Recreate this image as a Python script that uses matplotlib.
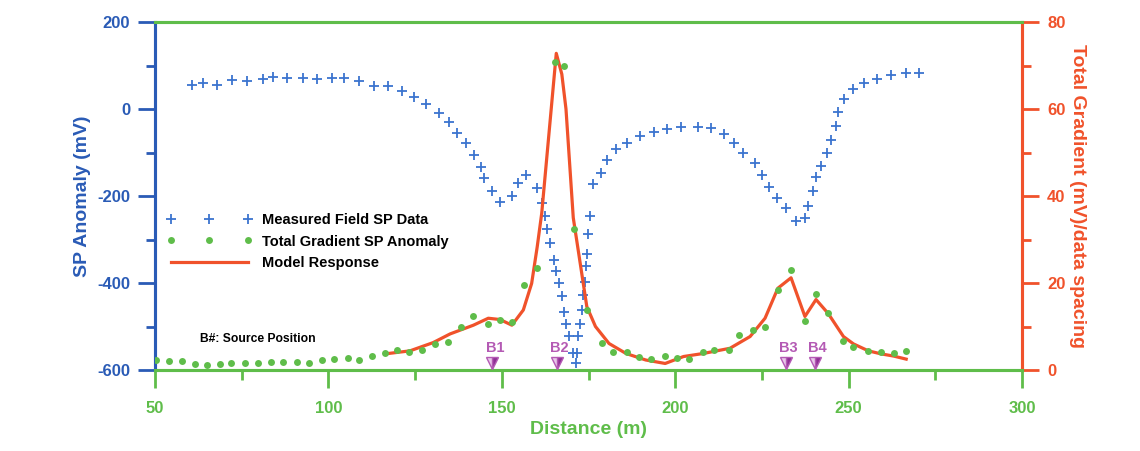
import matplotlib
matplotlib.use("Agg")
import matplotlib.pyplot as plt
from matplotlib.lines import Line2D

plt.rcParams['font.family'] = ['Liberation Sans', 'DejaVu Sans']
plt.rcParams['font.weight'] = 'bold'
plt.rcParams['axes.unicode_minus'] = False

# ---------------- data ----------------
sp_x = [60.6, 63.9, 67.8, 72.1, 76.6, 81.0, 84.1, 88.1, 92.6, 96.6, 101.1, 104.5,
        108.9, 113.1, 117.1, 121.1, 124.8, 128.1, 131.8, 134.8, 137.2, 139.7, 142.0,
        143.9, 145.0, 147.3, 149.5, 153.0, 154.8, 157.0, 160.2, 161.5,
        162.5, 163.1, 163.9, 165.1, 165.6, 166.6, 167.4, 168.0, 168.5, 169.5, 170.4, 171.3,
        171.8, 172.1, 172.6, 173.0, 173.3, 173.9, 174.3, 174.5, 174.8, 175.5,
        176.4, 178.5, 180.2, 182.8, 186.0, 189.8, 193.9, 197.7, 201.8, 206.5, 210.3,
        214.1, 217.0, 219.6, 223.0, 225.1, 227.0, 229.3, 231.9, 234.8, 237.4, 238.4,
        239.6, 240.6, 242.0, 243.9, 244.9, 246.3, 247.0, 248.8, 251.2, 254.4, 258.1,
        262.2, 266.6, 270.4]
sp_mv = [55, 59, 55, 67, 64, 69, 73, 71, 71, 69, 71, 71,
         64, 54, 53, 42, 28, 11, -10, -30, -56, -79, -106,
         -133, -159, -189, -214, -199, -171, -152, -182, -215,
         -247, -277, -309, -346, -372, -399, -431, -467, -494, -522, -560, -585,
         -560, -521, -494, -463, -428, -397, -361, -333, -288, -246,
         -173, -148, -117, -93, -77, -61, -54, -47, -42, -42, -44,
         -58, -79, -100, -125, -152, -179, -205, -228, -257, -251, -222,
         -188, -156, -130, -100, -71, -39, -8, 22, 45, 59, 69,
         78, 83, 82]

tg_x = [50.3, 54.0, 57.7, 61.5, 65.1, 68.7, 71.9, 76.0, 79.8, 83.4, 87.0, 90.9,
        94.5, 98.2, 101.7, 105.6, 108.9, 112.5, 116.3, 119.9, 123.3, 126.9, 130.7,
        134.4, 138.2, 141.8, 145.9, 149.5, 152.9, 156.4, 160.1, 165.4, 167.8, 170.8,
        174.5, 178.8, 182.2, 186.2, 189.6, 193.0, 197.1, 200.6, 204.1, 207.9, 211.3,
        215.6, 218.5, 222.5, 225.9, 229.6, 233.4, 237.4, 240.6, 244.1, 248.5, 251.4,
        255.7, 259.4, 263.0, 266.6]
tg_val = [2.3, 2.1, 2.1, 1.4, 1.1, 1.4, 1.5, 1.5, 1.5, 1.8, 1.8, 1.8,
          1.5, 2.3, 2.5, 2.8, 2.3, 3.3, 4.0, 4.7, 4.1, 4.7, 6.0,
          6.5, 10.0, 12.3, 10.5, 11.6, 11.1, 19.5, 23.5, 70.9, 70.0, 32.3,
          13.9, 6.1, 4.2, 4.2, 3.1, 2.5, 3.2, 2.7, 2.5, 4.1, 4.6,
          4.6, 8.0, 9.2, 10.0, 18.5, 23.0, 11.3, 17.4, 13.0, 6.7, 5.4,
          4.4, 4.1, 3.8, 4.4]

model_x = [116.3, 123.5, 130.2, 135.1, 141.8, 146.1, 149.5, 152.9, 156.2, 158.6,
           160.2, 161.5, 165.7, 167.3, 168.5, 170.6, 174.5, 177.0, 180.9, 185.8,
           191.5, 197.1, 202.4, 208.1, 215.8, 221.6, 225.9, 229.6, 233.4, 237.4,
           240.6, 244.1, 248.5, 251.4, 255.7, 259.4, 263.0, 266.6]
model_val = [3.7, 4.4, 6.3, 8.3, 10.3, 11.9, 11.6, 10.3, 13.8, 19.9,
             28.3, 36.0, 72.8, 68.0, 60.0, 35.0, 14.6, 10.0, 6.1, 3.8,
             2.3, 1.5, 3.1, 3.8, 5.0, 7.7, 11.9, 18.8, 21.2, 12.3,
             16.2, 13.0, 7.7, 6.0, 4.4, 3.7, 3.2, 2.5]

src_labels = ["B1", "B2", "B3", "B4"]
src_x = [147.3, 165.8, 231.9, 240.3]

x_ticks = [50, 100, 150, 200, 250, 300]
left_ticks = [200, 0, -200, -400, -600]
right_ticks = [0, 20, 40, 60, 80]

# ---------------- style ----------------
BLUE = '#2a5bb6'
BLUE_PT = '#3b74cf'
GREEN = '#5fbd4a'
RED = '#f0522b'
PURPLE = '#b45ab4'
PURPLE_D = '#8e2f95'

fig = plt.figure(figsize=(11.4, 4.51), dpi=100)
ax = fig.add_axes([0.136, 0.1796, 0.7605, 0.7716])
ax2 = ax.twinx()

ax.set_xlim(50, 300)
ax.set_ylim(-600, 200)
ax2.set_ylim(0, 80)

# measured SP data
ax.plot(sp_x, sp_mv, linestyle='none', marker='+', markersize=7.5,
        markeredgewidth=1.3, color=BLUE_PT, zorder=3)

# total gradient + model on right axis
ax2.plot(model_x, model_val, color=RED, linewidth=2.3, zorder=3)
ax2.plot(tg_x, tg_val, linestyle='none', marker='o', markersize=5,
         color=GREEN, markeredgewidth=0, zorder=4)

# source positions
for lab, sx in zip(src_labels, src_x):
    ax2.plot([sx], [1.6], linestyle='none', marker='v', markersize=9,
             markerfacecolor=PURPLE_D, markerfacecoloralt='#e8c8ea',
             fillstyle='right', markeredgecolor=PURPLE, markeredgewidth=1.0,
             zorder=5, clip_on=False)
    ax2.text(sx + 0.7, 5.0, lab, color=PURPLE, fontsize=10.5, fontweight='bold',
             ha='center', va='center', zorder=5)

ax2.text(0.052, 0.088, "B#: Source Position", transform=ax.transAxes,
         fontsize=8.7, fontweight='bold', color='black', ha='left', va='center')

# spines
for a in (ax, ax2):
    a.spines['top'].set_color(GREEN)
    a.spines['top'].set_linewidth(2.2)
    a.spines['bottom'].set_color(GREEN)
    a.spines['bottom'].set_linewidth(2.2)
    a.spines['left'].set_color(BLUE)
    a.spines['left'].set_linewidth(2.2)
    a.spines['right'].set_color(RED)
    a.spines['right'].set_linewidth(2.2)

# ticks
ax.set_xticks(x_ticks)
ax.set_xticks([75, 125, 175, 225, 275], minor=True)
ax.set_yticks(left_ticks)
ax.set_yticks([100, -100, -300, -500], minor=True)
ax2.set_yticks(right_ticks)
ax2.set_yticks([10, 30, 50, 70], minor=True)

ax.tick_params(axis='x', which='major', direction='out', length=13, width=2,
               color=GREEN, labelcolor=GREEN, labelsize=12, pad=9)
ax.tick_params(axis='x', which='minor', direction='out', length=7, width=2, color=GREEN)
ax.tick_params(axis='y', which='major', direction='out', length=12, width=2,
               color=BLUE, labelcolor=BLUE, labelsize=12, pad=6)
ax.tick_params(axis='y', which='minor', direction='out', length=6.5, width=2, color=BLUE)
ax2.tick_params(axis='y', which='major', direction='out', length=12, width=2,
                color=RED, labelcolor=RED, labelsize=12, pad=6)
ax2.tick_params(axis='y', which='minor', direction='out', length=6.5, width=2, color=RED)
for lbl in ax.get_xticklabels() + ax.get_yticklabels() + ax2.get_yticklabels():
    lbl.set_fontweight('bold')

ax.set_xlabel("Distance (m)", color=GREEN, fontsize=14, fontweight='bold', labelpad=4)
ax.set_ylabel("SP Anomaly (mV)", color=BLUE, fontsize=14, fontweight='bold', labelpad=4)
ax2.set_ylabel("Total Gradient (mV)/data spacing", color=RED, fontsize=14,
               fontweight='bold', rotation=-90, labelpad=15)

# legend
handles = [
    Line2D([], [], linestyle='none', marker='+', markersize=7.5, markeredgewidth=1.3,
           color=BLUE_PT),
    Line2D([], [], linestyle='none', marker='o', markersize=5, markeredgewidth=0,
           color=GREEN),
    Line2D([], [], color=RED, linewidth=2.3),
]
leg = ax2.legend(handles, ["Measured Field SP Data", "Total Gradient SP Anomaly",
                           "Model Response"],
                 loc='upper left', bbox_to_anchor=(0.003, 0.475), frameon=False,
                 numpoints=3, handlelength=5.9, handletextpad=0.65,
                 labelspacing=0.49, borderpad=0.3, borderaxespad=0.3,
                 prop={'size': 10.5, 'weight': 'bold'})

fig.savefig("out.png", dpi=100)
